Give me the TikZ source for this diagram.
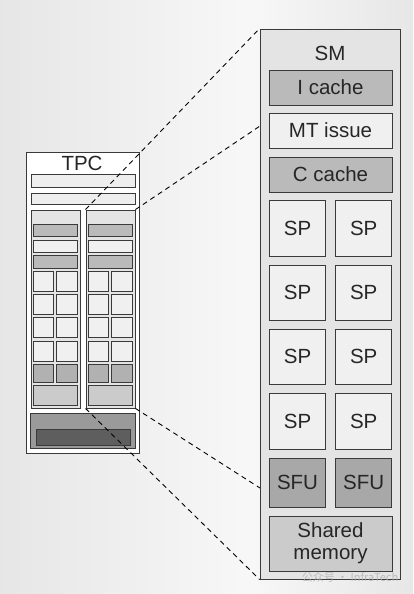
\documentclass[tikz,border=0pt]{standalone}
\usepackage{fontspec}
\setmainfont{Liberation Sans}
\newfontfamily\cjkfont{Noto Sans CJK SC}
\definecolor{bgl}{HTML}{D8D8D8}
\definecolor{bgr}{HTML}{D2D2D2}
\definecolor{frame}{HTML}{3A3A3A}
\definecolor{lite}{HTML}{F0F0F0}
\definecolor{colfill}{HTML}{E4E4E4}
\definecolor{midg}{HTML}{BABABA}
\definecolor{sfug}{HTML}{A8A8A8}
\definecolor{shg}{HTML}{CBCBCB}
\definecolor{botg}{HTML}{9A9A9A}
\definecolor{darkg}{HTML}{5E5E5E}
\pgfdeclarehorizontalshading{bgshade}{100bp}{color(0bp)=(bgl); color(55bp)=(white!97!black); color(100bp)=(bgr)}
\newcommand\bx[7]{\node[bxs,fill=#6,minimum width={((#4)-(#2))*1pt},minimum height={((#5)-(#3))*1pt}] (#1) at ({((#2)+(#4))/2},{-((#3)+(#5))/2}) {#7};}
\begin{document}
\begin{tikzpicture}[x=1pt,y=1pt,
  bxs/.style={draw=frame,line width=0.9pt,rectangle,inner sep=0pt,text=black!85,font=\fontsize{20.5}{22}\selectfont,align=center},
  zoomline/.style={draw=black,line width=0.9pt,dash pattern=on 5pt off 4pt},
  lbl/.style={inner sep=0pt,text=black!85,font=\fontsize{20.5}{22}\selectfont}]
\useasboundingbox (0,0) rectangle (413,-594);
\shade[shading=bgshade] (0,0) rectangle (413,-594);
% TPC
\bx{tpc}{26}{152}{139}{453}{white}{}
\node[lbl] (tpclabel) at (82,-163) {TPC};
\bx{bar1}{31}{174}{135}{187}{lite!85!colfill}{}
\bx{bar2}{31}{193}{135}{204}{lite!85!colfill}{}
\bx{colL}{31}{210}{80}{408}{colfill}{}
\bx{colR}{86}{210}{135}{408}{colfill}{}
\foreach \o/\c in {0/L,55/R}{
  \bx{ga\c}{33.3+\o}{224.3}{77.3+\o}{236.7}{midg}{}
  \bx{lb\c}{33.3+\o}{240}{77.3+\o}{252}{lite}{}
  \bx{gc\c}{33.3+\o}{255.7}{77.3+\o}{268.3}{midg}{}
  \foreach \ya/\yb [count=\i] in {271.7/291.7,294.5/314.5,317.7/337.7,341/361}{
    \bx{sqa\c\i}{33.3+\o}{\ya}{53.3+\o}{\yb}{lite}{}
    \bx{sqb\c\i}{56.7+\o}{\ya}{77.3+\o}{\yb}{lite}{}
  }
  \bx{gga\c}{33.3+\o}{364.3}{53.3+\o}{382.3}{sfug!90!white}{}
  \bx{ggb\c}{56.7+\o}{364.3}{77.3+\o}{382.3}{sfug!90!white}{}
  \bx{big\c}{33.3+\o}{385}{77.3+\o}{405.7}{shg}{}
}
\bx{bottom}{30}{413.3}{135.7}{448.3}{botg}{}
\bx{bottomin}{36}{429.3}{130.7}{445}{darkg}{}
% SM
\bx{sm}{260}{29}{400}{579}{colfill}{}
\node[lbl] (smlabel) at (330,-53) {SM};
\bx{icache}{269}{70}{392}{105}{midg}{I cache}
\bx{mt}{269}{113}{392}{148}{lite}{MT issue}
\bx{ccache}{269}{157}{392}{192}{midg}{C cache}
\foreach \ya/\yb [count=\i] in {200.7/256,265/320.5,329.3/384.3,393.3/449}{
  \bx{spa\i}{269.3}{\ya}{325.7}{\yb}{lite}{SP}
  \bx{spb\i}{335.7}{\ya}{391.7}{\yb}{lite}{SP}
}
\bx{sfua}{269.3}{458}{325.7}{507}{sfug}{SFU}
\bx{sfub}{335.7}{458}{391.7}{507}{sfug}{SFU}
\bx{shmem}{269}{516}{392}{571}{shg}{Shared\\memory}
% zoom lines
\coordinate (smA) at (260,-126);
\coordinate (smB) at (260,-488);
\draw[zoomline] (colR.north west) -- (sm.north west);
\draw[zoomline] (colR.north east) -- (smA);
\draw[zoomline] (colR.south west) -- (sm.south west);
\draw[zoomline] (colR.south east) -- (smB);
% watermark
\node[inner sep=0pt,text=black!30,opacity=0.8,font=\fontsize{11}{12}\selectfont] (wm) at (350,-577) {\cjkfont 公众号 · InfraTech};
\end{tikzpicture}
\end{document}
